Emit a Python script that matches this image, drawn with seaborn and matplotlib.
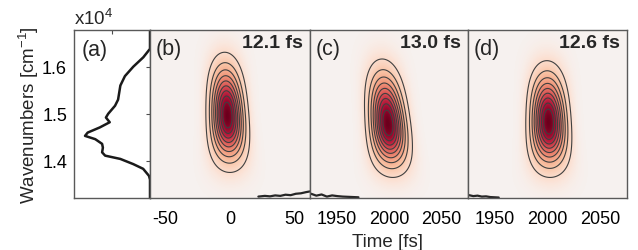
import numpy as np
import matplotlib
matplotlib.use("Agg")
import matplotlib.pyplot as plt
from matplotlib.colors import LinearSegmentedColormap
import seaborn as sns
import pandas as pd

sns.set_theme(style="white")
plt.rcParams['font.family'] = ['Liberation Sans', 'DejaVu Sans']
plt.rcParams['mathtext.fontset'] = 'custom'
plt.rcParams['mathtext.rm'] = 'Liberation Sans'

# ---------------- data ----------------
# spectrum of panel (a): wavenumber [cm^-1] vs amplitude (arb.)
spec_w = [13210, 13600, 13680, 13830, 13930, 14040, 14110, 14180, 14280, 14360,
          14460, 14530, 14600, 14710, 14820, 14920, 15000, 15170, 15300, 15400,
          15600, 15800, 16000, 16200, 16380, 16780]
spec_a = [0.0, 0.0, 0.013, 0.09, 0.22, 0.39, 0.59, 0.63, 0.62, 0.63,
          0.72, 0.855, 0.82, 0.66, 0.53, 0.58, 0.55, 0.46, 0.42, 0.41,
          0.39, 0.33, 0.22, 0.088, 0.0, 0.0]

panel_labels = ["(b)", "(c)", "(d)"]
durations = ["12.1 fs", "13.0 fs", "12.6 fs"]
t_centers = [-2.0, 1999.0, 2001.0]        # fs, peak position
w_centers = [14957.0, 14780.0, 14820.0]   # cm^-1, peak position
# extents of the outermost (10 %) contour measured from the peak
t_half_ext = [16.7, 21.7, 21.5]           # fs
w_top_ext = [1350.0, 1384.0, 1308.0]      # cm^-1 above peak
w_bot_ext = [1204.0, 1133.0, 1173.0]      # cm^-1 below peak
tilts = [-0.0016, -0.004, -0.0012]        # fs per cm^-1
xlims = [(-62, 62), (1925, 2075), (1925, 2075)]
xticks = [[-50, 0, 50], [1950, 2000, 2050], [1950, 2000, 2050]]
levels = [0.1, 0.2, 0.3, 0.4, 0.5, 0.6, 0.7, 0.8, 0.9]

# small noise traces seen near the panel edges (time, wavenumber)
noise_t = [[22, 27, 31, 35, 39, 43, 47, 51, 55, 59, 62],
           [1926, 1931, 1936, 1941, 1946, 1951, 1956, 1961, 1966, 1971],
           [1926, 1930, 1934, 1938, 1942, 1946, 1950, 1954]]
noise_w = [[13240, 13255, 13245, 13265, 13255, 13280, 13270, 13300, 13310, 13335, 13350],
           [13300, 13260, 13285, 13240, 13265, 13250, 13240, 13235, 13230, 13225],
           [13270, 13250, 13260, 13240, 13245, 13230, 13225, 13220]]

ylim = (13210, 16780)
yticks = [14000, 15000, 16000]

cmap = LinearSegmentedColormap.from_list("pulse", [
    (0.00, (0.965, 0.945, 0.937)),
    (0.07, (0.985, 0.885, 0.835)),
    (0.22, (0.975, 0.760, 0.640)),
    (0.40, (0.940, 0.580, 0.470)),
    (0.58, (0.860, 0.350, 0.340)),
    (0.75, (0.730, 0.120, 0.240)),
    (0.90, (0.570, 0.020, 0.170)),
    (1.00, (0.420, 0.000, 0.110)),
])

# ---------------- figure ----------------
W, H = 638, 251
fig = plt.figure(figsize=(W / 100, H / 100), dpi=100)
top, bot = 31, 199
def ax_at(x0, x1):
    return fig.add_axes([x0 / W, 1 - bot / H, (x1 - x0) / W, (bot - top) / H])

ax_a = ax_at(74, 150)
axes2d = [ax_at(150, 310), ax_at(310, 468), ax_at(468, 627)]

spine_col = "0.35"
def style(ax):
    ax.tick_params(direction="in", top=True, right=True, length=3, width=0.8,
                   color="0.3", labelsize=13, pad=9, labelcolor="black")
    for s in ax.spines.values():
        s.set_color(spine_col)
        s.set_linewidth(1.0)
        s.set_visible(True)

# panel (a)
df = pd.DataFrame({"w": spec_w, "a": spec_a})
sns.lineplot(data=df, x="a", y="w", sort=False, orient="y", ax=ax_a,
             color="0.1", lw=1.8)
ax_a.set_xlim(1.0, 0.0)
ax_a.set_ylim(*ylim)
ax_a.set_xticks([0.5])
ax_a.set_xticklabels([])
ax_a.set_yticks(yticks)
ax_a.set_yticklabels([f"{v/1e4:.1f}" for v in yticks])
ax_a.set_xlabel("")
ax_a.set_ylabel("Wavenumbers [cm$^{-1}$]", fontsize=13.5, labelpad=1)
style(ax_a)
ax_a.tick_params(axis="y", pad=5)
ax_a.text(0.1, 0.885, "(a)", transform=ax_a.transAxes, fontsize=15.5, ha="left", va="center")
ax_a.text(0.0, 1.01, "x10$^4$", transform=ax_a.transAxes, fontsize=13.5, ha="left", va="bottom")

# 2D panels: Gaussian pulse model whose duration grows in the spectral wings
r10 = np.sqrt(-2 * np.log(0.1))
for i, ax in enumerate(axes2d):
    t = np.linspace(xlims[i][0], xlims[i][1], 500)
    w = np.linspace(ylim[0], ylim[1], 500)
    T, Wn = np.meshgrid(t, w)
    dw = Wn - w_centers[i]
    sw = np.where(dw > 0, w_top_ext[i], w_bot_ext[i]) / r10
    u = dw / sw
    st = t_half_ext[i] / r10 * (1 + 0.06 * u ** 2) * (1 - 0.07 * dw / 1000.0)
    tc = t_centers[i] + tilts[i] * dw
    Z = np.exp(-0.5 * ((T - tc) / st) ** 2) * np.exp(-0.5 * u ** 2)
    ax.pcolormesh(T, Wn, Z, cmap=cmap, vmin=0, vmax=1, shading="auto", rasterized=True)
    ax.contour(T, Wn, Z, levels=levels, colors="0.25", linewidths=0.8)
    sns.lineplot(x=noise_t[i], y=noise_w[i], sort=False, ax=ax, color="0.15", lw=1.6)
    ax.set_xlim(*xlims[i])
    ax.set_ylim(*ylim)
    ax.set_xticks(xticks[i])
    ax.set_xticklabels([str(v) for v in xticks[i]])
    ax.set_yticks(yticks)
    ax.set_yticklabels([])
    ax.set_xlabel("")
    ax.set_ylabel("")
    style(ax)
    ax.text(0.038, 0.887, panel_labels[i], transform=ax.transAxes, fontsize=15.5,
            ha="left", va="center")
    ax.text(0.958, 0.926, durations[i], transform=ax.transAxes, fontsize=14,
            fontweight="bold", ha="right", va="center")

fig.text(388 / W, 1 - 243 / H, "Time [fs]", fontsize=13.5, ha="center", va="center")

fig.savefig("out.png", dpi=100)
